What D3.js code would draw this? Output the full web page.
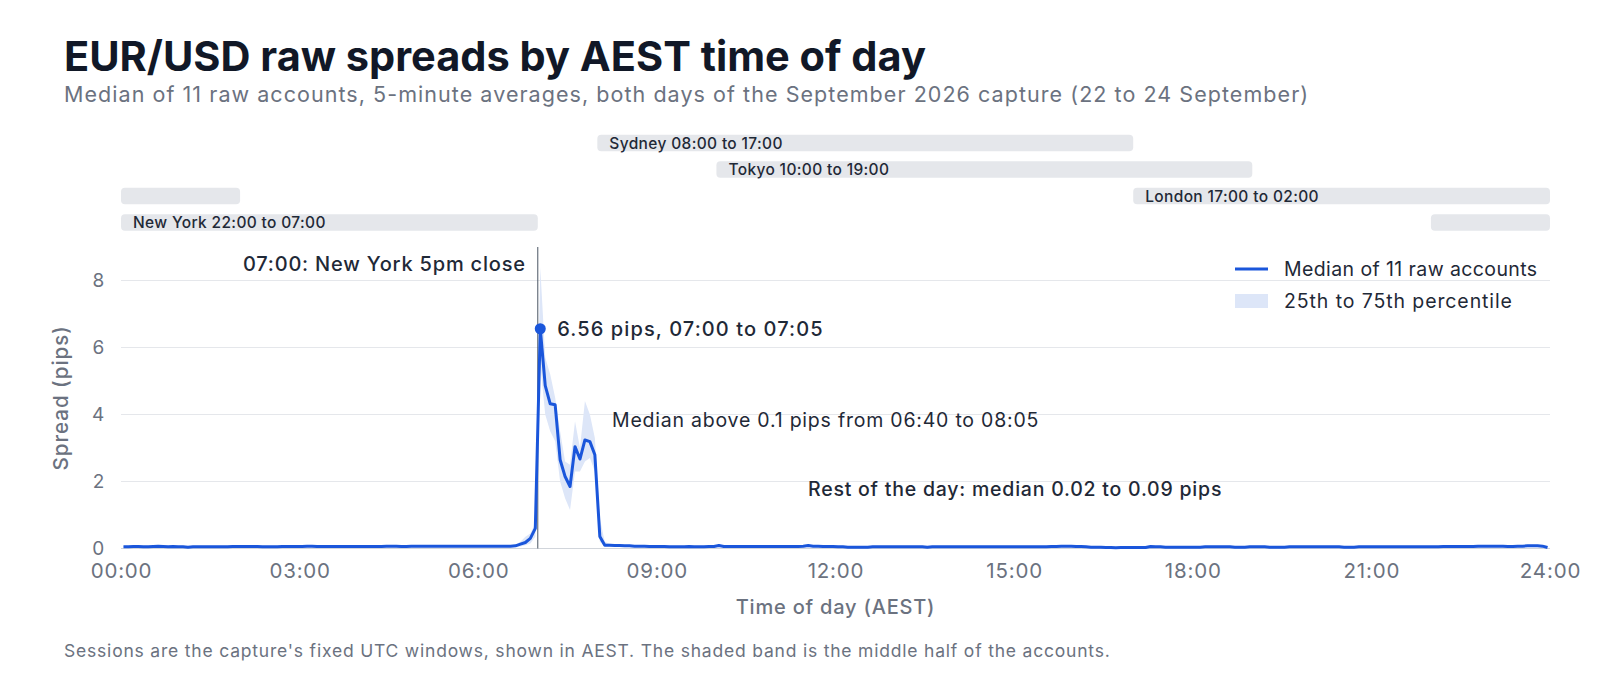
<!DOCTYPE html>
<html>
<head>
<meta charset="utf-8">
<script src="https://cdn.jsdelivr.net/npm/d3@7"></script>
<style>
  body { margin: 0; background: #ffffff; }
  svg { display: block; font-family: Inter, "Noto Sans", sans-serif; }
  svg text { letter-spacing: 0.04em; }
</style>
</head>
<body>
<div id="chart"></div>
<script>

// 5-minute slots, 00:00 to 23:55 AEST, one row per hour
const medianPips = [
  0.05,0.05,0.06,0.06,0.05,0.05,0.06,0.07,0.06,0.05,0.06,0.05,
  0.05,0.04,0.05,0.05,0.05,0.05,0.05,0.05,0.05,0.05,0.06,0.06,
  0.06,0.06,0.06,0.06,0.05,0.05,0.05,0.05,0.06,0.06,0.06,0.06,
  0.06,0.07,0.07,0.06,0.06,0.06,0.06,0.06,0.06,0.06,0.06,0.06,
  0.06,0.06,0.06,0.06,0.06,0.07,0.07,0.07,0.06,0.06,0.07,0.07,
  0.07,0.07,0.07,0.07,0.07,0.07,0.07,0.07,0.07,0.07,0.07,0.07,
  0.07,0.07,0.07,0.07,0.07,0.07,0.07,0.08,0.13,0.18,0.30,0.60,
  6.56,4.86,4.32,4.29,2.65,2.15,1.85,3.04,2.67,3.24,3.19,2.80,
  0.36,0.10,0.10,0.09,0.09,0.08,0.08,0.07,0.07,0.07,0.06,0.06,
  0.06,0.06,0.05,0.05,0.05,0.05,0.06,0.05,0.05,0.05,0.06,0.06,
  0.09,0.06,0.06,0.06,0.06,0.06,0.06,0.06,0.06,0.06,0.06,0.06,
  0.06,0.06,0.06,0.06,0.06,0.07,0.09,0.07,0.07,0.06,0.06,0.06,
  0.05,0.05,0.04,0.04,0.04,0.04,0.04,0.05,0.05,0.05,0.05,0.05,
  0.05,0.05,0.05,0.05,0.05,0.05,0.04,0.05,0.05,0.05,0.05,0.05,
  0.05,0.05,0.05,0.05,0.05,0.05,0.05,0.05,0.05,0.05,0.05,0.05,
  0.05,0.05,0.05,0.05,0.05,0.05,0.05,0.06,0.06,0.07,0.07,0.07,
  0.06,0.06,0.05,0.04,0.04,0.04,0.03,0.03,0.02,0.03,0.03,0.03,
  0.03,0.03,0.03,0.06,0.05,0.05,0.04,0.04,0.04,0.04,0.04,0.04,
  0.04,0.04,0.05,0.05,0.05,0.05,0.05,0.05,0.04,0.04,0.04,0.05,
  0.05,0.05,0.05,0.04,0.04,0.04,0.04,0.05,0.05,0.05,0.05,0.05,
  0.05,0.05,0.05,0.05,0.05,0.05,0.04,0.04,0.04,0.05,0.05,0.05,
  0.05,0.05,0.05,0.05,0.05,0.05,0.05,0.05,0.05,0.05,0.05,0.05,
  0.05,0.05,0.06,0.06,0.06,0.06,0.06,0.06,0.06,0.07,0.07,0.07,
  0.07,0.07,0.07,0.06,0.06,0.07,0.07,0.08,0.08,0.08,0.07,0.03
];

const p25Pips = [
  0.03,0.03,0.04,0.04,0.03,0.03,0.04,0.04,0.04,0.03,0.04,0.03,
  0.03,0.02,0.03,0.03,0.03,0.03,0.03,0.03,0.03,0.03,0.04,0.04,
  0.04,0.04,0.04,0.04,0.03,0.03,0.03,0.03,0.04,0.04,0.04,0.04,
  0.04,0.05,0.05,0.04,0.04,0.04,0.04,0.04,0.04,0.04,0.04,0.04,
  0.04,0.04,0.04,0.04,0.04,0.05,0.05,0.05,0.04,0.04,0.05,0.05,
  0.05,0.05,0.05,0.05,0.05,0.05,0.05,0.05,0.05,0.05,0.05,0.05,
  0.05,0.05,0.05,0.05,0.05,0.05,0.05,0.05,0.06,0.10,0.15,0.35,
  5.50,4.00,3.50,3.20,2.00,1.50,1.15,2.30,2.30,2.60,2.70,2.30,
  0.20,0.06,0.06,0.06,0.06,0.05,0.05,0.05,0.05,0.05,0.04,0.04,
  0.04,0.04,0.03,0.03,0.03,0.03,0.04,0.03,0.03,0.03,0.04,0.04,
  0.06,0.04,0.04,0.04,0.04,0.04,0.04,0.04,0.04,0.04,0.04,0.04,
  0.04,0.04,0.04,0.04,0.04,0.05,0.06,0.05,0.05,0.04,0.04,0.04,
  0.03,0.03,0.02,0.02,0.02,0.02,0.02,0.03,0.03,0.03,0.03,0.03,
  0.03,0.03,0.03,0.03,0.03,0.03,0.02,0.03,0.03,0.03,0.03,0.03,
  0.03,0.03,0.03,0.03,0.03,0.03,0.03,0.03,0.03,0.03,0.03,0.03,
  0.03,0.03,0.03,0.03,0.03,0.03,0.03,0.04,0.04,0.05,0.05,0.05,
  0.04,0.04,0.03,0.02,0.02,0.02,0.02,0.02,0.01,0.02,0.02,0.02,
  0.01,0.01,0.01,0.04,0.03,0.03,0.02,0.02,0.02,0.02,0.02,0.02,
  0.02,0.02,0.03,0.03,0.03,0.03,0.03,0.03,0.02,0.02,0.02,0.03,
  0.03,0.03,0.03,0.02,0.02,0.02,0.02,0.03,0.03,0.03,0.03,0.03,
  0.03,0.03,0.03,0.03,0.03,0.03,0.02,0.02,0.02,0.03,0.03,0.03,
  0.03,0.03,0.03,0.03,0.03,0.03,0.03,0.03,0.03,0.03,0.03,0.03,
  0.03,0.03,0.04,0.04,0.04,0.04,0.04,0.04,0.04,0.05,0.05,0.05,
  0.05,0.05,0.05,0.04,0.04,0.05,0.05,0.06,0.06,0.06,0.05,0.02
];

const p75Pips = [
  0.08,0.08,0.09,0.09,0.08,0.08,0.09,0.10,0.09,0.08,0.09,0.08,
  0.08,0.07,0.08,0.08,0.08,0.08,0.08,0.08,0.08,0.08,0.09,0.09,
  0.09,0.09,0.09,0.09,0.08,0.08,0.08,0.08,0.09,0.09,0.09,0.09,
  0.09,0.10,0.10,0.09,0.09,0.09,0.09,0.09,0.09,0.09,0.09,0.09,
  0.09,0.09,0.09,0.09,0.09,0.10,0.10,0.10,0.09,0.09,0.10,0.10,
  0.10,0.10,0.10,0.10,0.10,0.10,0.10,0.10,0.10,0.10,0.10,0.10,
  0.10,0.10,0.10,0.10,0.10,0.10,0.10,0.11,0.20,0.35,0.45,0.75,
  8.40,5.70,5.20,4.50,3.50,2.60,2.50,3.80,3.00,4.40,4.00,3.30,
  0.90,0.20,0.14,0.13,0.12,0.11,0.11,0.10,0.10,0.10,0.09,0.09,
  0.09,0.09,0.08,0.08,0.08,0.08,0.09,0.08,0.08,0.08,0.09,0.09,
  0.12,0.09,0.09,0.09,0.09,0.09,0.09,0.09,0.09,0.09,0.09,0.09,
  0.09,0.09,0.09,0.09,0.09,0.10,0.12,0.10,0.10,0.09,0.09,0.09,
  0.08,0.08,0.07,0.07,0.07,0.07,0.07,0.08,0.08,0.08,0.08,0.08,
  0.08,0.08,0.08,0.08,0.08,0.08,0.07,0.08,0.08,0.08,0.08,0.08,
  0.08,0.08,0.08,0.08,0.08,0.08,0.08,0.08,0.08,0.08,0.08,0.08,
  0.08,0.08,0.08,0.08,0.08,0.08,0.08,0.09,0.09,0.10,0.10,0.10,
  0.09,0.09,0.08,0.07,0.07,0.07,0.06,0.06,0.05,0.06,0.06,0.06,
  0.06,0.06,0.06,0.09,0.08,0.08,0.07,0.07,0.07,0.07,0.07,0.07,
  0.07,0.07,0.08,0.08,0.08,0.08,0.08,0.08,0.07,0.07,0.07,0.08,
  0.08,0.08,0.08,0.07,0.07,0.07,0.07,0.08,0.08,0.08,0.08,0.08,
  0.08,0.08,0.08,0.08,0.08,0.08,0.07,0.07,0.07,0.08,0.08,0.08,
  0.08,0.08,0.08,0.08,0.08,0.08,0.08,0.08,0.08,0.08,0.08,0.08,
  0.08,0.08,0.09,0.09,0.09,0.09,0.09,0.09,0.09,0.10,0.10,0.10,
  0.10,0.10,0.10,0.09,0.09,0.10,0.10,0.11,0.11,0.11,0.10,0.06
];

// trading sessions in AEST hours; rows top to bottom
const sessionNames  = ["Sydney", "Tokyo", "London", "New York"];
const sessionStart  = [8, 10, 17, 22];
const sessionEnd    = [17, 19, 2, 7];

const xTickHours = [0, 3, 6, 9, 12, 15, 18, 21, 24];
const yTickPips  = [0, 2, 4, 6, 8];

const peakSlot = 84;   // 07:00 to 07:05
const closeHour = 7;

const W = 1600, H = 686;
const plot = {left: 121, right: 1550, top: 247, bottom: 548.5};

const svg = d3.select("#chart").append("svg")
    .attr("width", W)
    .attr("height", H);

const x = d3.scaleLinear().domain([0, 1440]).range([plot.left, plot.right]);
const y = d3.scaleLinear().domain([0, 9]).range([plot.bottom, plot.top]);

const ink = "#111827", dark = "#1f2937", grey = "#6b7280";
const blue = "#1a56db", bandFill = "#dde6f8";
const hh = d3.format("02");

// title block
svg.append("text")
    .attr("x", 64).attr("y", 71)
    .style("font-size", "41.5px").style("font-weight", 700)
    .style("fill", ink).style("letter-spacing", "0px")
    .text("EUR/USD raw spreads by AEST time of day");

svg.append("text")
    .attr("x", 64).attr("y", 102)
    .style("font-size", "21.5px").style("fill", grey).style("letter-spacing", "1.05px")
    .text("Median of 11 raw accounts, 5-minute averages, both days of the September 2026 capture (22 to 24 September)");

// session strips: a window that runs past midnight is split in two,
// the label goes on the longer piece
const rowY = [143, 169.5, 196, 222.5];
const barH = 16.5;
let sessionBars = [];
sessionNames.forEach(function(name, i){
    let s = sessionStart[i], e = sessionEnd[i];
    let label = name + " " + hh(s) + ":00 to " + hh(e) + ":00";
    if (e > s) {
        sessionBars.push({row: i, from: s, to: e, label: label});
    } else {
        let eveningLonger = (24 - s) >= e;
        sessionBars.push({row: i, from: s, to: 24, label: eveningLonger ? label : null});
        sessionBars.push({row: i, from: 0, to: e, label: eveningLonger ? null : label});
    }
});

let strips = svg.append("g");
strips.selectAll("rect")
    .data(sessionBars)
    .enter().append("rect")
    .attr("x", d => x(d.from * 60))
    .attr("width", d => x(d.to * 60) - x(d.from * 60))
    .attr("y", d => rowY[d.row] - barH / 2)
    .attr("height", barH)
    .attr("rx", 4)
    .style("fill", "#e5e7eb");
strips.selectAll("text")
    .data(sessionBars.filter(d => d.label))
    .enter().append("text")
    .attr("x", d => x(d.from * 60) + 12)
    .attr("y", d => rowY[d.row] + 5.5)
    .style("font-size", "15.5px").style("font-weight", 500).style("fill", dark)
    .style("letter-spacing", "0.35px")
    .text(d => d.label);

// grid
svg.append("g").selectAll("line")
    .data(yTickPips)
    .enter().append("line")
    .attr("x1", plot.left).attr("x2", plot.right)
    .attr("y1", d => y(d)).attr("y2", d => y(d))
    .style("stroke", d => d == 0 ? "#d1d5db" : "#e5e7eb")
    .style("stroke-width", 1);

// axes
let yAxis = svg.append("g")
    .attr("transform", "translate(" + plot.left + ",0)")
    .call(d3.axisLeft(y).tickValues(yTickPips).tickSize(0).tickPadding(16));
yAxis.select(".domain").remove();
yAxis.selectAll("text")
    .style("font-size", "19px").style("fill", grey).style("font-family", "Inter, sans-serif");

let xAxis = svg.append("g")
    .attr("transform", "translate(0," + plot.bottom + ")")
    .call(d3.axisBottom(x).tickValues(xTickHours.map(h => h * 60)).tickSize(0)
        .tickFormat(m => hh(m / 60) + ":00"));
xAxis.select(".domain").remove();
xAxis.selectAll("text")
    .attr("y", 29.5).attr("dy", 0)
    .style("font-size", "20.5px").style("fill", grey).style("font-family", "Inter, sans-serif");

svg.append("text")
    .attr("x", (plot.left + plot.right) / 2).attr("y", 614)
    .attr("text-anchor", "middle")
    .style("font-size", "20px").style("font-weight", 500).style("fill", grey)
    .text("Time of day (AEST)");

svg.append("text")
    .attr("transform", "translate(68," + (plot.top + plot.bottom) / 2 + ") rotate(-90)")
    .attr("text-anchor", "middle")
    .style("font-size", "20.5px").style("font-weight", 500).style("fill", grey)
    .style("letter-spacing", "1px")
    .text("Spread (pips)");

// data
const slots = medianPips.map(function(v, i){
    return {mid: i * 5 + 2.5, med: v, lo: p25Pips[i], hi: p75Pips[i]};
});

svg.append("path")
    .datum(slots)
    .attr("d", d3.area().x(d => x(d.mid)).y0(d => y(d.lo)).y1(d => y(d.hi)))
    .style("fill", bandFill);

// NY close marker
svg.append("line")
    .attr("x1", x(closeHour * 60)).attr("x2", x(closeHour * 60))
    .attr("y1", plot.top).attr("y2", plot.bottom)
    .style("stroke", "#4b5563").style("stroke-width", 1);

svg.append("path")
    .datum(slots)
    .attr("d", d3.line().x(d => x(d.mid)).y(d => y(d.med)))
    .style("fill", "none").style("stroke", blue).style("stroke-width", 3)
    .style("stroke-linejoin", "round");

let peak = slots[peakSlot];
svg.append("circle")
    .attr("cx", x(peak.mid)).attr("cy", y(peak.med)).attr("r", 5.5)
    .style("fill", blue);

// annotations
svg.append("text")
    .attr("x", x(closeHour * 60) - 12).attr("y", 271)
    .attr("text-anchor", "end")
    .style("font-size", "20px").style("font-weight", 500).style("fill", dark)
    .text("07:00: New York 5pm close");

svg.append("text")
    .attr("x", x(peak.mid) + 17).attr("y", y(peak.med) + 7)
    .style("font-size", "20px").style("font-weight", 500).style("fill", dark)
    .style("letter-spacing", "1.1px")
    .text(d3.format(".2f")(peak.med) + " pips, 07:00 to 07:05");

svg.append("text")
    .attr("x", 612).attr("y", 427)
    .style("font-size", "19.5px").style("fill", dark)
    .text("Median above 0.1 pips from 06:40 to 08:05");

svg.append("text")
    .attr("x", 808).attr("y", 496)
    .style("font-size", "19.5px").style("font-weight", 500).style("fill", dark)
    .text("Rest of the day: median 0.02 to 0.09 pips");

// legend
let legend = svg.append("g").attr("transform", "translate(1235,0)");
legend.append("line")
    .attr("x1", 0).attr("x2", 33).attr("y1", 269).attr("y2", 269)
    .style("stroke", blue).style("stroke-width", 3);
legend.append("text")
    .attr("x", 49).attr("y", 276)
    .style("font-size", "19.5px").style("fill", dark).style("letter-spacing", "0.4px")
    .text("Median of 11 raw accounts");
legend.append("rect")
    .attr("x", 0).attr("y", 294).attr("width", 33).attr("height", 14)
    .style("fill", bandFill);
legend.append("text")
    .attr("x", 49).attr("y", 308)
    .style("font-size", "19.5px").style("fill", dark).style("letter-spacing", "0.9px")
    .text("25th to 75th percentile");

// footer
svg.append("text")
    .attr("x", 64).attr("y", 657)
    .style("font-size", "17.5px").style("fill", grey).style("letter-spacing", "0.8px")
    .text("Sessions are the capture's fixed UTC windows, shown in AEST. The shaded band is the middle half of the accounts.");

</script>
</body>
</html>
